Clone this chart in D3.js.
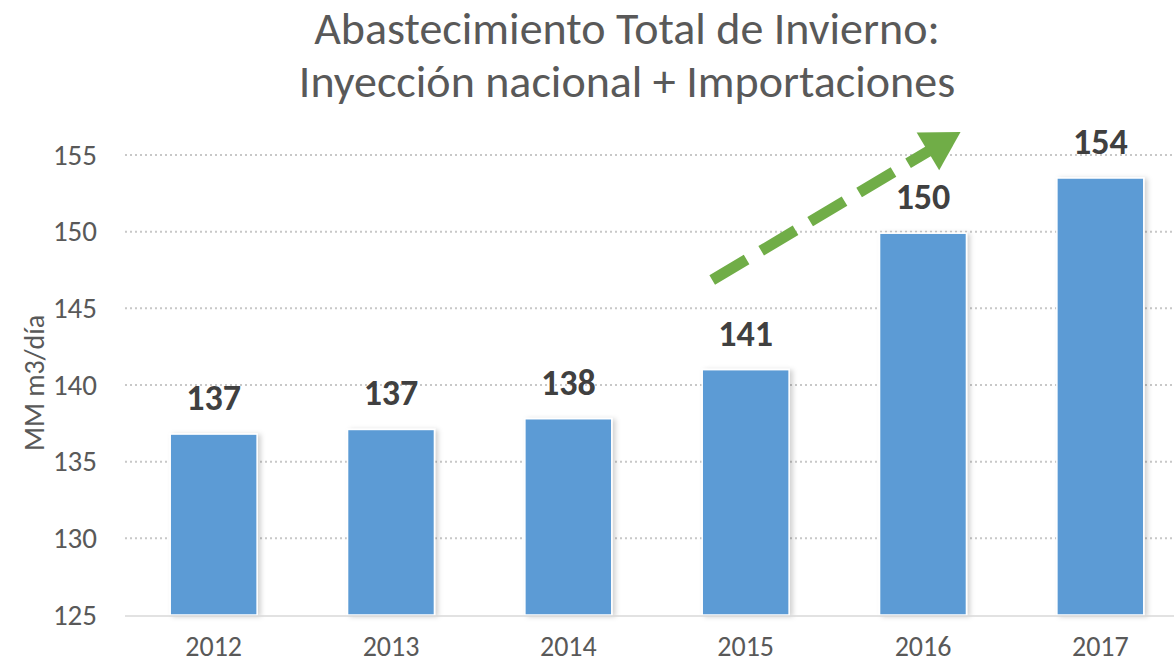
<!DOCTYPE html>
<html>
<head>
<meta charset="utf-8">
<script src="https://cdn.jsdelivr.net/npm/d3@7"></script>
<style>
  body { margin: 0; background: #fff; }
  svg { display: block; font-family: Carlito, Lato, "Open Sans", sans-serif; }
</style>
</head>
<body>
<div id="chart"></div>
<script>
var years = ["2012", "2013", "2014", "2015", "2016", "2017"];
var supply = [136.8, 137.1, 137.8, 141.0, 149.9, 153.5];
var valueLabels = ["137", "137", "138", "141", "150", "154"];
var yTicks = [125, 130, 135, 140, 145, 150, 155];

var svgWidth = 1174;
var svgHeight = 667;

var svg = d3
  .select("#chart")
  .append("svg")
  .attr("width", svgWidth)
  .attr("height", svgHeight);

var defs = svg.append("defs");
var shadow = defs.append("filter").attr("id", "shadow")
  .attr("x", "-10%").attr("y", "-10%").attr("width", "130%").attr("height", "120%");
shadow.append("feDropShadow")
  .attr("dx", 3).attr("dy", 1).attr("stdDeviation", 2.5)
  .attr("flood-color", "#000").attr("flood-opacity", 0.18);

// plot extends past the right edge, like the cropped original
var xScale = d3.scaleBand()
  .domain(years)
  .range([125, 1189])
  .paddingInner(0.51)
  .paddingOuter(0.255);

var yScale = d3.scaleLinear()
  .domain([125, 155])
  .range([615, 155]);

// title
svg.append("text")
  .attr("x", 627).attr("y", 44)
  .attr("text-anchor", "middle")
  .attr("font-size", 46)
  .attr("fill", "#595959")
  .text("Abastecimiento Total de Invierno:");
svg.append("text")
  .attr("x", 627).attr("y", 97)
  .attr("text-anchor", "middle")
  .attr("font-size", 46)
  .attr("fill", "#595959")
  .text("Inyección nacional + Importaciones");

// gridlines
svg.append("g")
  .selectAll("line")
  .data(yTicks.filter(d => d > 125))
  .enter()
  .append("line")
  .attr("x1", 125).attr("x2", svgWidth)
  .attr("y1", d => yScale(d)).attr("y2", d => yScale(d))
  .attr("stroke", "#c8c8c8")
  .attr("stroke-width", 2)
  .attr("stroke-dasharray", "2,3");

// y axis labels
var leftAxis = d3.axisLeft(yScale).tickValues(yTicks).tickSize(0).tickPadding(0);
var yAxis = svg.append("g")
  .attr("transform", "translate(97,0)")
  .call(leftAxis);
yAxis.select(".domain").remove();
yAxis.selectAll("text")
  .attr("font-family", "Carlito, Lato, 'Open Sans', sans-serif")
  .attr("font-size", 29)
  .attr("fill", "#595959");

svg.append("text")
  .attr("transform", "translate(44,383) rotate(-90)")
  .attr("text-anchor", "middle")
  .attr("font-size", 28)
  .attr("fill", "#595959")
  .text("MM m3/día");

// bars
svg.append("g")
  .selectAll("rect")
  .data(supply)
  .enter()
  .append("rect")
  .attr("x", (d, i) => xScale(years[i]))
  .attr("y", d => yScale(d))
  .attr("width", xScale.bandwidth())
  .attr("height", d => yScale(125) - yScale(d))
  .attr("fill", "#5B9BD5")
  .attr("stroke", "#fff")
  .attr("stroke-width", 1.5)
  .attr("filter", "url(#shadow)");

// baseline
svg.append("line")
  .attr("x1", 125).attr("x2", svgWidth)
  .attr("y1", yScale(125) + 1).attr("y2", yScale(125) + 1)
  .attr("stroke", "#d9d9d9")
  .attr("stroke-width", 1.5);

// x axis labels (nudged up so they stay inside the frame)
var bottomAxis = d3.axisBottom(xScale).tickSize(0).tickPadding(0);
var xAxis = svg.append("g")
  .attr("transform", "translate(0,636)")
  .call(bottomAxis);
xAxis.select(".domain").remove();
xAxis.selectAll("text")
  .attr("font-family", "Carlito, Lato, 'Open Sans', sans-serif")
  .attr("font-size", 28)
  .attr("fill", "#595959");

// value labels
svg.append("g")
  .selectAll("text")
  .data(supply)
  .enter()
  .append("text")
  .attr("x", (d, i) => xScale(years[i]) + xScale.bandwidth() / 2)
  .attr("y", d => yScale(d) - 24)
  .attr("text-anchor", "middle")
  .attr("font-size", 36)
  .attr("font-weight", "bold")
  .attr("fill", "#404040")
  .text((d, i) => valueLabels[i]);

// trend arrow from 2015 towards 2017
var arrowStart = [xScale("2015") + 10, yScale(146.85)];
var arrowEnd = [xScale("2016") + 81, yScale(156.5)];
var ang = Math.atan2(arrowEnd[1] - arrowStart[1], arrowEnd[0] - arrowStart[0]);
var headLen = 38, headHalf = 22;
var shaftEnd = [arrowEnd[0] - Math.cos(ang) * headLen, arrowEnd[1] - Math.sin(ang) * headLen];

svg.append("line")
  .attr("x1", arrowStart[0]).attr("y1", arrowStart[1])
  .attr("x2", shaftEnd[0] + Math.cos(ang) * 2).attr("y2", shaftEnd[1] + Math.sin(ang) * 2)
  .attr("stroke", "#70AD47")
  .attr("stroke-width", 11)
  .attr("stroke-dasharray", "40,17");

var px = -Math.sin(ang), py = Math.cos(ang);
svg.append("path")
  .attr("d", d3.line()([
    arrowEnd,
    [shaftEnd[0] + px * headHalf, shaftEnd[1] + py * headHalf],
    [shaftEnd[0] - px * headHalf, shaftEnd[1] - py * headHalf]
  ]) + "Z")
  .attr("fill", "#70AD47");
</script>
</body>
</html>
